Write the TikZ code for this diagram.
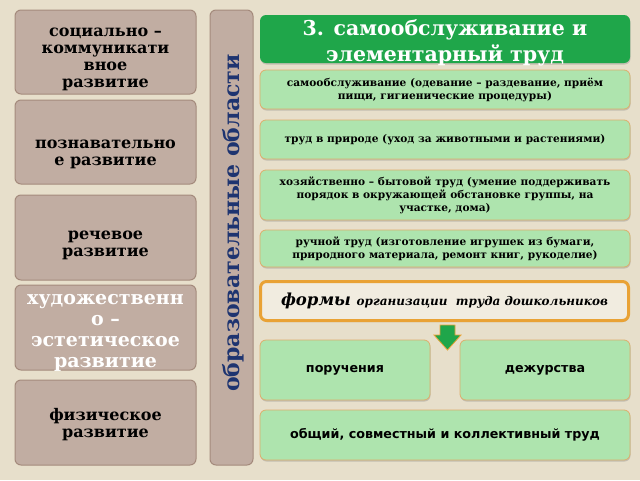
\documentclass[tikz,border=0pt]{standalone}
\usepackage{fontspec}
\setmainfont{DejaVu Serif}
\newfontfamily\formfont{DejaVu Sans}
\usetikzlibrary{shadows}
\definecolor{paper}{HTML}{E7DFCB}
\definecolor{areafill}{HTML}{C1ADA2}
\definecolor{areaedge}{HTML}{A48A7C}
\definecolor{titlegreen}{HTML}{1FA64A}
\definecolor{taskfill}{HTML}{AEE4AE}
\definecolor{taskedge}{HTML}{DDAE6C}
\definecolor{formedge}{HTML}{E9A235}
\definecolor{barblue}{HTML}{1E3470}
\tikzset{
  area/.style={rounded corners=6pt, fill=areafill, draw=areaedge, line width=1pt,
    align=center, inner sep=0pt, minimum width=181pt,
    font=\bfseries\fontsize{16}{17}\selectfont},
  task/.style={rounded corners=6pt, fill=taskfill, draw=taskedge, line width=0.8pt,
    align=center, inner sep=0pt, minimum width=370pt,
    drop shadow={shadow xshift=0.5pt, shadow yshift=-1.5pt, opacity=0.35},
    font=\bfseries\fontsize{10.6}{13}\selectfont},
  form/.style={task, font=\formfont\bfseries\fontsize{12.7}{15}\selectfont}
}
\begin{document}
\begin{tikzpicture}[x=1pt,y=-1pt]
		\fill[paper] (0,0) rectangle (640,480);
		\useasboundingbox (0,0) rectangle (640,480);
		% educational areas
		\node[area, minimum height=84pt] (soc) at (105.5,52) {\rule{0pt}{24pt}социально –\\коммуникати\\вное\\развитие};
		\node[area, minimum height=84pt] (cog) at (105.5,142) {\rule{0pt}{34pt}познавательно\\е развитие};
		\node[area, minimum height=85pt] (speech) at (105.5,237.5) {\rule{0pt}{25pt}речевое\\развитие};
		\node[area, minimum height=85pt] (art) at (105.5,327.5) {};
		\node[text=white, align=center, inner sep=0pt, font=\bfseries\fontsize{19}{21}\selectfont] (arttext)
		  at ([yshift=-5pt]art.center) {художественн\\о –\\эстетическое\\развитие};
		\node[area, minimum height=85pt] (phys) at (105.5,422.5) {\rule{0pt}{17pt}физическое\\развитие};
		\node[area, minimum width=43pt, minimum height=455pt] (bar) at (231.5,237.5) {};
		\node[rotate=90, text=barblue, font=\bfseries\fontsize{22}{26}\selectfont] (barlabel) at (233,223) {образовательные области};
		% work
		\node[rounded corners=6pt, fill=titlegreen, minimum width=370pt, minimum height=48pt,
		  drop shadow={shadow xshift=0.5pt, shadow yshift=-1.5pt, opacity=0.35}] (title) at (445,39) {};
		\node[text=white, align=center, inner sep=0pt, font=\bfseries\fontsize{20.5}{26}\selectfont] (titletext)
		  at ([yshift=-4pt]title.center) {3. самообслуживание и\\элементарный труд};
		\node[task, minimum height=39pt] (self) at (445,89.5) {самообслуживание (одевание – раздевание, приём\\пищи, гигиенические процедуры)};
		\node[task, minimum height=39pt] (nature) at (445,139.5) {труд в природе (уход за животными и растениями)};
		\node[task, minimum height=50pt] (house) at (445,195) {хозяйственно – бытовой труд (умение поддерживать\\порядок в окружающей обстановке группы, на\\участке, дома)};
		\node[task, minimum height=37pt] (hand) at (445,248.5) {ручной труд (изготовление игрушек из бумаги,\\природного материала, ремонт книг, рукоделие)};
		\node[rounded corners=6pt, fill=paper!60!white, draw=formedge, line width=3pt, inner sep=0pt,
		  minimum width=368pt, minimum height=39pt,
		  drop shadow={shadow xshift=0.5pt, shadow yshift=-1.5pt, opacity=0.3}] (forms) at (444.5,301)
		  {\bfseries\itshape\fontsize{16.5}{18}\selectfont формы \fontsize{12}{14}\selectfont организации \ труда дошкольников};
		\fill[titlegreen, draw=formedge, line width=0.8pt] (440,325) -- (455,325) -- (455,335) -- (461,335)
		  -- (447.5,350) -- (434,335) -- (440,335) -- cycle;
		\node[form, minimum width=170pt, minimum height=60pt] (errand) at (345,370) {поручения};
		\node[form, minimum width=170pt, minimum height=60pt] (duty) at (545,370) {дежурства};
		\node[form, minimum height=50pt] (joint) at (445,435) {общий, совместный и коллективный труд};
\end{tikzpicture}
\end{document}
